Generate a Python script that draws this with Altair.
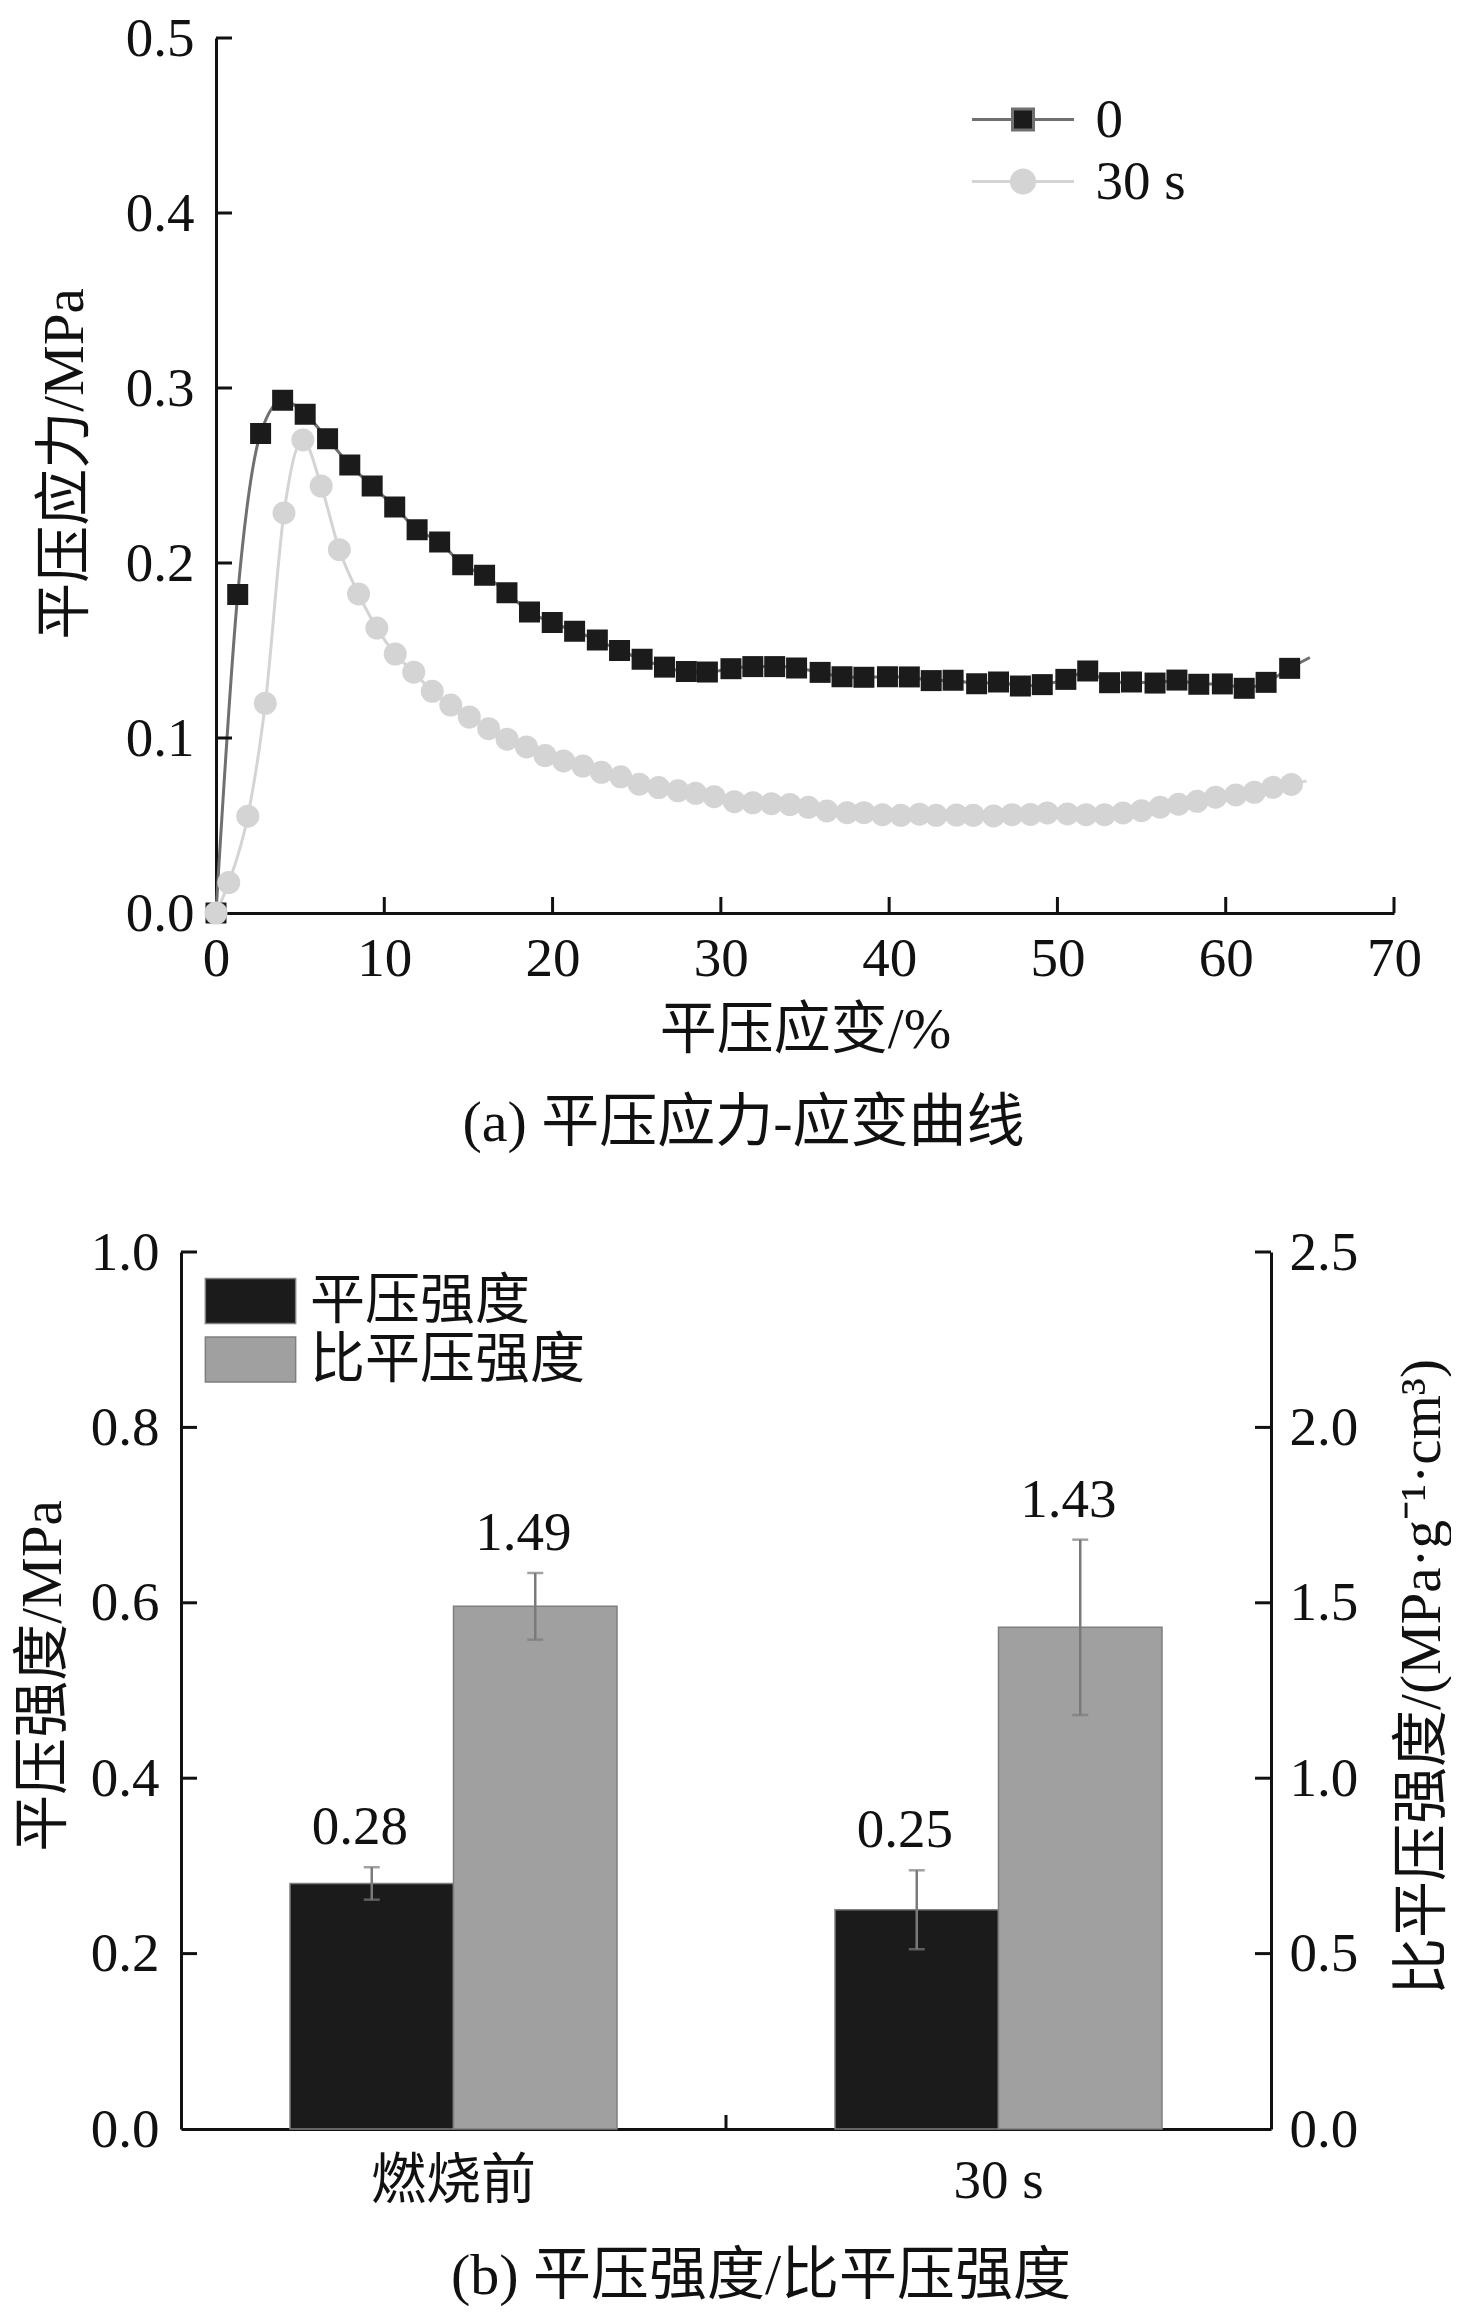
import altair as alt
import pandas as pd

FONT = "Liberation Serif, Noto Sans CJK SC, serif"
INK = "#111111"

# ---------------- (a) 平压应力-应变曲线 ----------------
series_a = ["0", "30 s"]
strain_0 = [0, 1.29, 2.65, 3.96, 5.30, 6.63, 7.95, 9.28, 10.62, 11.95, 13.29, 14.66,
            15.96, 17.29, 18.63, 19.98, 21.31, 22.66, 23.98, 25.32, 26.65, 27.95, 29.2,
            30.6, 31.9, 33.2, 34.5, 35.9, 37.2, 38.5, 39.9, 41.2, 42.5, 43.8, 45.2, 46.5,
            47.8, 49.1, 50.5, 51.8, 53.1, 54.4, 55.8, 57.1, 58.4, 59.8, 61.1, 62.4, 63.8]
stress_0 = [0, 0.182, 0.274, 0.293, 0.285, 0.271, 0.256, 0.244, 0.232, 0.219, 0.212, 0.199,
            0.193, 0.183, 0.172, 0.166, 0.161, 0.156, 0.150, 0.145, 0.1405, 0.138, 0.1377,
            0.1396, 0.1408, 0.1408, 0.140, 0.1375, 0.135, 0.1347, 0.135, 0.1349, 0.1328,
            0.133, 0.131, 0.132, 0.1297, 0.1305, 0.1335, 0.1383, 0.1316, 0.132, 0.1314,
            0.1331, 0.1307, 0.1309, 0.1284, 0.1318, 0.1398]
strain_30 = [0, 0.76, 1.89, 2.93, 4.04, 5.16, 6.25, 7.33, 8.47, 9.56, 10.65, 11.75, 12.85,
             13.95, 15.05, 16.2, 17.3, 18.45, 19.55, 20.65, 21.8, 22.9, 24.05, 25.15, 26.3,
             27.45, 28.5, 29.6, 30.8, 31.9, 33.0, 34.1, 35.2, 36.3, 37.5, 38.5, 39.6, 40.7,
             41.8, 42.8, 44.0, 45.0, 46.2, 47.3, 48.4, 49.4, 50.6, 51.7, 52.8, 53.9, 55.0,
             56.1, 57.2, 58.3, 59.4, 60.6, 61.7, 62.8, 63.9]
stress_30 = [0, 0.0174, 0.0553, 0.1198, 0.2286, 0.2703, 0.244, 0.2076, 0.1823, 0.1628, 0.148,
             0.1376, 0.1267, 0.1188, 0.112, 0.1053, 0.0993, 0.0949, 0.090, 0.0869, 0.084,
             0.0804, 0.0778, 0.0736, 0.0717, 0.0698, 0.0684, 0.0665, 0.0636, 0.063, 0.0625,
             0.062, 0.0604, 0.0583, 0.0573, 0.0573, 0.0562, 0.0558, 0.0565, 0.0558, 0.056,
             0.0558, 0.0555, 0.0562, 0.0563, 0.0572, 0.0566, 0.0562, 0.0562, 0.0572, 0.0585,
             0.0605, 0.0622, 0.0638, 0.0662, 0.0675, 0.069, 0.0718, 0.0735]
# the fitted curves run a little past the last marker
curve_end_strain = [65.0, 64.8]
curve_end_stress = [0.146, 0.0755]

x_ticks_a = [0, 10, 20, 30, 40, 50, 60, 70]
y_ticks_a = [0.0, 0.1, 0.2, 0.3, 0.4, 0.5]

# ---------------- (b) 平压强度/比平压强度 ----------------
conditions = ["燃烧前", "30 s"]
series_b = ["平压强度", "比平压强度"]
strength = [0.28, 0.25]
strength_err = [0.0185, 0.045]
spec_strength = [1.49, 1.43]
spec_strength_err = [0.095, 0.25]
y_ticks_left = [0.0, 0.2, 0.4, 0.6, 0.8, 1.0]
y_ticks_right = [0.0, 0.5, 1.0, 1.5, 2.0, 2.5]

# ======================= panel (a) =======================
SHIFT = 35            # panel (a) axes sit a little to the right of panel (b)
W1, H1 = 1213, 875
pts = pd.DataFrame({
    "strain": strain_0 + strain_30,
    "stress": stress_0 + stress_30,
    "series": [series_a[0]] * len(strain_0) + [series_a[1]] * len(strain_30),
})
line_df = pd.concat([pts, pd.DataFrame({"strain": curve_end_strain,
                                        "stress": curve_end_stress,
                                        "series": series_a})], ignore_index=True)

x_a = alt.X("strain:Q", scale=alt.Scale(domain=[0, 70], nice=False, zero=False, range=[SHIFT, W1]),
            axis=alt.Axis(values=x_ticks_a, title="平压应变/%", labelFlush=False,
                          labelPadding=19, titlePadding=16, format="d"))
y_a = alt.Y("stress:Q", scale=alt.Scale(domain=[0, 0.5], nice=False),
            axis=alt.Axis(values=y_ticks_a, format=".1f", title="平压应力/MPa",
                          labelPadding=22, titlePadding=31, offset=-SHIFT, titleY=H1 / 2 - 12))

SQ = "M-4.86,0H-1M1,0H4.86M-1,-1H1V1H-1Z"
CI = "M-4.86,0H-1.1M1.1,0H4.86M1.1,0A1.1,1.1,0,1,1,-1.1,0A1.1,1.1,0,1,1,1.1,0Z"
legend_a = alt.Legend(
    title=None, orient="none", legendX=814.5, legendY=54, direction="vertical",
    symbolType={"expr": f"datum.value === '0' ? '{SQ}' : '{CI}'"},
    symbolSize=441, symbolStrokeWidth=3,
    symbolStrokeColor={"expr": "datum.value === '0' ? '#707070' : '#d4d4d4'"},
    symbolOpacity=1, labelFont=FONT, labelFontSize=55, labelColor=INK,
    labelOffset=45, rowPadding=6, padding=0, labelLimit=400,
)
color_a = alt.Color("series:N", scale=alt.Scale(domain=series_a, range=["#1b1b1b", "#d4d4d4"]),
                    legend=legend_a)

line_colors = {"0": "#707070", "30 s": "#d4d4d4"}
marker_shape = {"0": ("square", 441), "30 s": ("circle", 529)}

layers_a = []
for s in series_a:
    layers_a.append(
        alt.Chart(line_df).transform_filter(alt.datum.series == s)
        .mark_line(interpolate="monotone", strokeWidth=3, color=line_colors[s])
        .encode(x=x_a, y=y_a)
    )
for s in series_a:
    shp, sz = marker_shape[s]
    layers_a.append(
        alt.Chart(pts).transform_filter(alt.datum.series == s)
        .mark_point(filled=True, opacity=1, strokeWidth=0, shape=shp, size=sz)
        .encode(x=x_a, y=y_a, color=color_a)
    )

xt_a = alt.Chart(pd.DataFrame({"strain": x_ticks_a[1:]})).mark_rule(color=INK, strokeWidth=3).encode(
    x=x_a, y=alt.value(H1), y2=alt.value(H1 - 16))
yt_a = alt.Chart(pd.DataFrame({"stress": y_ticks_a[1:]})).mark_rule(color=INK, strokeWidth=3).encode(
    y=y_a, x=alt.value(SHIFT), x2=alt.value(SHIFT + 16))

top = alt.layer(*layers_a, xt_a, yt_a).properties(
    width=W1, height=H1,
    title=alt.TitleParams("(a) 平压应力-应变曲线", orient="bottom", fontSize=58, font=FONT,
                          fontWeight="normal", color=INK, offset=37, anchor="middle", dx=-44),
)

# ======================= panel (b) =======================
W2, H2 = 1090, 877
b_df = pd.DataFrame({
    "cond": conditions * 2,
    "group": [series_b[0]] * 2 + [series_b[1]] * 2,
    "value": strength + spec_strength,
    "err": strength_err + spec_strength_err,
})

x_b = alt.X("cond:N", scale=alt.Scale(domain=conditions, paddingInner=0.4, paddingOuter=0.2),
            axis=alt.Axis(title=None, labelAngle=0, labelPadding=25))
xo_b = alt.XOffset("group:N", scale=alt.Scale(domain=series_b, paddingInner=0, paddingOuter=0))

legend_b = alt.Legend(
    title=None, orient="none", legendX=42, legendY=21.5, direction="vertical",
    symbolType="M-2.1,-1.05H2.1V1.05H-2.1Z", symbolSize=1849,
    symbolStrokeColor="#7f7f7f", symbolStrokeWidth=1.5, symbolOpacity=1,
    labelFont=FONT, labelFontSize=55, labelColor=INK, labelOffset=32, rowPadding=2.5,
    padding=0, labelLimit=400,
)
color_b = alt.Color("group:N", scale=alt.Scale(domain=series_b, range=["#1b1b1b", "#a0a0a0"]),
                    legend=legend_b)

axis_left = alt.Axis(values=y_ticks_left, format=".1f", title="平压强度/MPa",
                     labelPadding=22, titlePadding=18, orient="left", titleY=H2 / 2 - 15)
axis_right = alt.Axis(values=y_ticks_right, format=".1f", title="比平压强度/(MPa·g⁻¹·cm³)",
                      labelPadding=18, titlePadding=37, orient="right",
                      titleAngle=270, titleBaseline="top", titleY=H2 / 2 - 14)
scale_left = alt.Scale(domain=[0, 1.0], nice=False)
scale_right = alt.Scale(domain=[0, 2.5], nice=False)


def side(name, scale, axis, tick_vals, tx, tx2):
    base = alt.Chart(b_df).transform_filter(alt.datum.group == name).transform_calculate(
        lo="datum.value - datum.err", hi="datum.value + datum.err")
    bars = base.mark_bar(stroke="#7f7f7f", strokeWidth=1.5).encode(
        x=x_b, xOffset=xo_b, y=alt.Y("value:Q", scale=scale, axis=axis), color=color_b)
    err = base.mark_rule(color="#7a7a7a", strokeWidth=2.5).encode(
        x=x_b, xOffset=xo_b, y=alt.Y("lo:Q", scale=scale, axis=axis), y2="hi:Q")
    cap_lo = base.mark_tick(color="#7a7a7a", size=16, thickness=2.5, orient="horizontal").encode(
        x=x_b, xOffset=xo_b, y=alt.Y("lo:Q", scale=scale, axis=axis))
    cap_hi = base.mark_tick(color="#7a7a7a", size=16, thickness=2.5, orient="horizontal").encode(
        x=x_b, xOffset=xo_b, y=alt.Y("hi:Q", scale=scale, axis=axis))
    label = base.mark_text(dy=-40, dx=-12, fontSize=55, font=FONT, color=INK, baseline="middle").encode(
        x=x_b, xOffset=xo_b, y=alt.Y("hi:Q", scale=scale, axis=axis),
        text=alt.Text("value:Q", format=".2f"))
    ticks = alt.Chart(pd.DataFrame({"value": tick_vals[1:]})).mark_rule(color=INK, strokeWidth=3).encode(
        y=alt.Y("value:Q", scale=scale, axis=axis), x=alt.value(tx), x2=alt.value(tx2))
    return alt.layer(bars, err, cap_lo, cap_hi, label, ticks)


left = side(series_b[0], scale_left, axis_left, y_ticks_left, 0, 16)
right = side(series_b[1], scale_right, axis_right, y_ticks_right, W2 - 16, W2)
mid_tick = alt.Chart(pd.DataFrame({"k": [0]})).mark_rule(color=INK, strokeWidth=3).encode(
    x=alt.value(W2 / 2), y=alt.value(H2), y2=alt.value(H2 - 14))

bottom = alt.layer(left, right, mid_tick).resolve_scale(y="independent").properties(
    width=W2, height=H2,
    title=alt.TitleParams("(b) 平压强度/比平压强度", orient="bottom", fontSize=58, font=FONT,
                          fontWeight="normal", color=INK, offset=40, anchor="middle", dx=35),
)

chart = alt.vconcat(top, bottom, spacing=72).resolve_scale(color="independent").properties(
    padding={"left": 6, "top": 3, "right": 0, "bottom": 0}
).configure_view(stroke=None).configure_axis(
    domainColor=INK, domainWidth=3, ticks=False, grid=False,
    labelFont=FONT, labelFontSize=55, labelColor=INK,
    titleFont=FONT, titleFontSize=57, titleFontWeight="normal", titleColor=INK,
)

chart.save("out.html", embed_options={"renderer": "svg", "actions": False})
